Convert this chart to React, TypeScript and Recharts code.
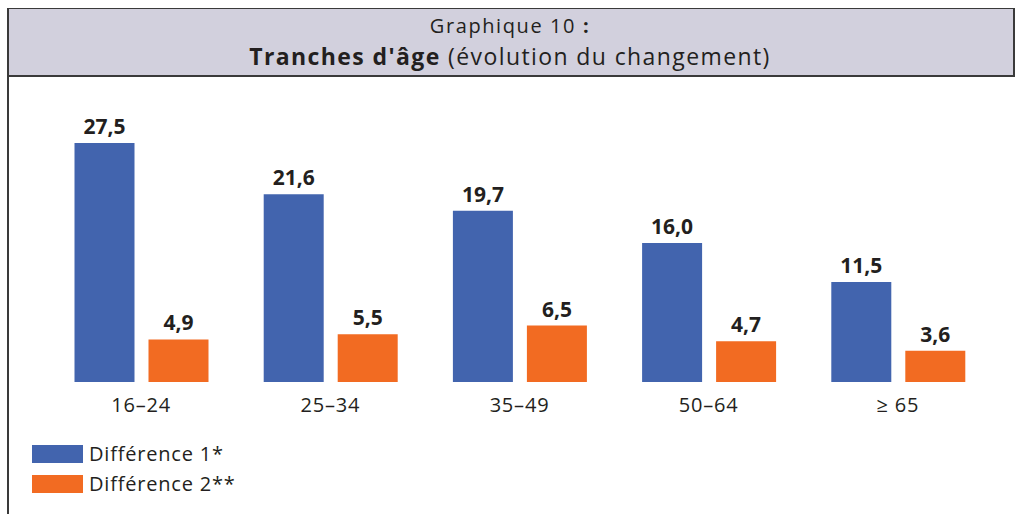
import React from 'react';
import { BarChart, Bar, XAxis, YAxis, LabelList } from 'recharts';

const ageGroups = ['16–24', '25–34', '35–49', '50–64', '≥ 65'];
const diff1 = [27.5, 21.6, 19.7, 16.0, 11.5];
const diff2 = [4.9, 5.5, 6.5, 4.7, 3.6];
const seriesNames = ['Différence 1*', 'Différence 2**'];
const seriesColors = ['#4264AE', '#F26B22'];

const data = ageGroups.map((name, i) => ({ name, d1: diff1[i], d2: diff2[i] }));

const fmt = (v: any) => Number(v).toFixed(1).replace('.', ',');
const font = '"Open Sans", sans-serif';
const ink = '#231F20';

export default function App() {
  return (
    <div style={{ width: 1015, height: 514, paddingTop: 8, paddingLeft: 7, boxSizing: 'border-box' }}>
      <style>{'html{overflow:hidden} body{margin:0}'}</style>
      <div
        style={{
          position: 'relative',
          width: 1008,
          height: 506,
          overflow: 'hidden',
          fontFamily: font,
          color: ink,
          borderLeft: '2px solid #3a3a3a',
          boxSizing: 'border-box',
        }}
      >
        {/* title band */}
        <div
          style={{
            position: 'absolute',
            left: -2,
            top: -1,
            width: 1008,
            height: 70,
            background: '#D2D0DD',
            borderTop: '2px solid #3a3a3a',
            borderBottom: '2px solid #3a3a3a',
            borderRight: '2px solid #3a3a3a',
            boxSizing: 'border-box',
            textAlign: 'center',
          }}
        >
          <div style={{ fontSize: 20, lineHeight: '24px', marginTop: 5, letterSpacing: 1.6 }}>
            Graphique 10 <b>:</b>
          </div>
          <div style={{ fontSize: 23, lineHeight: '30px', marginTop: 3, letterSpacing: 1.4 }}>
            <b>Tranches d'âge</b> (évolution du changement)
          </div>
        </div>

        <div style={{ position: 'absolute', left: 0, top: 80 }}>
          <BarChart
            width={1000}
            height={340}
            data={data}
            margin={{ top: 33.3, right: 16.5, bottom: 16, left: 37.5 }}
            barSize={60}
            barGap={14}
          >
            <YAxis hide domain={[0, 30]} />
            <XAxis
              dataKey="name"
              axisLine={false}
              tickLine={false}
              height={30}
              tickMargin={10}
              tick={{ fill: ink, fontSize: 20, fontFamily: font, letterSpacing: 0.8 }}
            />
            <Bar dataKey="d1" fill={seriesColors[0]} isAnimationActive={false}>
              <LabelList
                dataKey="d1"
                position="top"
                offset={9}
                formatter={fmt}
                style={{ fill: ink, fontSize: 21, fontWeight: 700, fontFamily: font }}
              />
            </Bar>
            <Bar dataKey="d2" fill={seriesColors[1]} isAnimationActive={false}>
              <LabelList
                dataKey="d2"
                position="top"
                offset={9}
                formatter={fmt}
                style={{ fill: ink, fontSize: 21, fontWeight: 700, fontFamily: font }}
              />
            </Bar>
          </BarChart>
        </div>

        {/* legend */}
        <div style={{ position: 'absolute', left: 23, top: 437 }}>
          {seriesNames.map((n, i) => (
            <div key={n} style={{ display: 'flex', alignItems: 'center', height: 18, marginBottom: 12 }}>
              <div style={{ width: 51, height: 18, background: seriesColors[i], marginRight: 6 }} />
              <span style={{ fontSize: 20, lineHeight: '18px', letterSpacing: 0.8 }}>{n}</span>
            </div>
          ))}
        </div>
      </div>
    </div>
  );
}
